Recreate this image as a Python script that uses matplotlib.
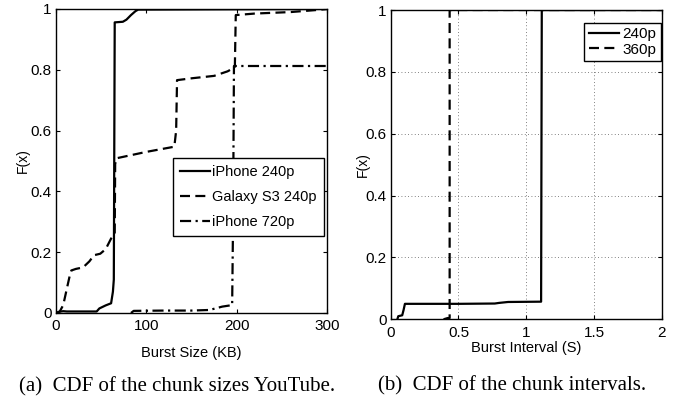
import matplotlib
matplotlib.use("Agg")
import matplotlib.pyplot as plt

# ------------------------------------------------------------
# Data
# ------------------------------------------------------------
# (a) CDF of burst (chunk) sizes, KB
iphone240_x = [0, 3, 8, 12, 45, 48, 55, 61, 63, 64, 65, 74, 78, 83, 88, 91, 300]
iphone240_y = [0, 0.004, 0.006, 0.005, 0.005, 0.015, 0.025, 0.032, 0.07, 0.11, 0.956, 0.958, 0.965, 0.98, 0.993, 0.998, 1.0]

galaxy240_x = [0, 4, 8, 12, 15, 17, 22, 30, 37, 42, 49, 55, 61, 65, 65.5, 67, 100, 131,
               133, 134, 150, 175, 190, 196, 198, 199, 220, 260, 290, 300]
galaxy240_y = [0, 0.004, 0.026, 0.08, 0.12, 0.14, 0.145, 0.15, 0.17, 0.19, 0.195, 0.21, 0.245,
               0.26, 0.49, 0.509, 0.53, 0.547, 0.6, 0.766, 0.772, 0.78, 0.795, 0.805, 0.81, 0.98,
               0.985, 0.99, 0.997, 1.0]

iphone720_x = [83, 86, 120, 150, 170, 184, 195, 196, 197, 300]
iphone720_y = [0, 0.007, 0.008, 0.008, 0.01, 0.021, 0.026, 0.3, 0.8125, 0.8125]

size_labels = ["iPhone 240p", "Galaxy S3 240p", "iPhone 720p"]

# (b) CDF of burst intervals, seconds
r240_x = [0.049, 0.056, 0.085, 0.095, 0.105, 0.5, 0.768, 0.80, 0.866, 1.11, 1.115, 2.0]
r240_y = [0, 0.01, 0.013, 0.03, 0.05, 0.05, 0.051, 0.053, 0.056, 0.057, 1.0, 1.0]

r360_x = [0.39, 0.42, 0.435, 0.435, 2.0]
r360_y = [0, 0.004, 0.004, 1.0, 1.0]

interval_labels = ["240p", "360p"]

# ------------------------------------------------------------
# Style (MATLAB-like boxed axes)
# ------------------------------------------------------------
plt.rcParams["font.family"] = ["Liberation Sans", "DejaVu Sans"]
plt.rcParams["axes.linewidth"] = 1.0

W, H = 683, 405
fig = plt.figure(figsize=(W / 100, H / 100), dpi=100)

ax1 = fig.add_axes([56 / W, 1 - 313 / H, 271 / W, 304 / H])
ax2 = fig.add_axes([390.7 / W, 1 - 319.3 / H, 271 / W, 309.3 / H])

lw = 1.6
dash = (4.5, 2.4)
dashdot = (5, 2, 1, 2)


def style_axes(ax):
    ax.tick_params(direction="in", top=True, right=True, length=3, width=0.8,
                   labelsize=11, pad=3)
    for s in ax.spines.values():
        s.set_color("k")


# ------------------------------------------------------------
# (a) Burst size
# ------------------------------------------------------------
ax1.plot(iphone240_x, iphone240_y, color="k", lw=lw, label=size_labels[0])
ax1.plot(galaxy240_x, galaxy240_y, color="k", lw=lw, dashes=dash, label=size_labels[1])
ax1.plot(iphone720_x, iphone720_y, color="k", lw=lw, dashes=dashdot, label=size_labels[2])
ax1.set_xlim(0, 300)
ax1.set_ylim(0, 1)
ax1.set_xticks([0, 100, 200, 300])
ax1.set_yticks([0, 0.2, 0.4, 0.6, 0.8, 1])
ax1.set_yticklabels(["0", "0.2", "0.4", "0.6", "0.8", "1"])
style_axes(ax1)
ax1.tick_params(axis="x", pad=4.5)
ax1.set_xlabel("Burst Size (KB)", fontsize=10.5, va="center")
ax1.xaxis.set_label_coords(0.5, -0.132)
ax1.set_ylabel("F(x)", fontsize=10, va="center")
ax1.yaxis.set_label_coords(-0.122, 0.5)
leg1 = ax1.legend(loc="upper left", bbox_to_anchor=(0.432, 0.51), borderaxespad=0,
                  fontsize=10.5, frameon=True, fancybox=False, labelspacing=0.75,
                  handlelength=2.0, handletextpad=0.2, borderpad=0.5)
leg1.get_frame().set_edgecolor("k")
leg1.get_frame().set_linewidth(1.0)
leg1.get_frame().set_alpha(1)

# ------------------------------------------------------------
# (b) Burst interval
# ------------------------------------------------------------
ax2.plot(r240_x, r240_y, color="k", lw=lw, label=interval_labels[0])
ax2.plot(r360_x, r360_y, color="k", lw=lw, dashes=dash, label=interval_labels[1])
ax2.set_xlim(0, 2)
ax2.set_ylim(0, 1)
ax2.set_xticks([0, 0.5, 1, 1.5, 2])
ax2.set_xticklabels(["0", "0.5", "1", "1.5", "2"])
ax2.set_yticks([0, 0.2, 0.4, 0.6, 0.8, 1])
ax2.set_yticklabels(["0", "0.2", "0.4", "0.6", "0.8", "1"])
ax2.grid(True, color="0.35", lw=0.6, dashes=(1, 3))
style_axes(ax2)
ax2.tick_params(axis="x", pad=4.5)
ax2.set_xlabel("Burst Interval (S)", fontsize=10.5, va="center")
ax2.xaxis.set_label_coords(0.5, -0.093)
ax2.set_ylabel("F(x)", fontsize=10, va="center")
ax2.yaxis.set_label_coords(-0.102, 0.5)
leg2 = ax2.legend(loc="upper right", bbox_to_anchor=(0.996, 0.959), borderaxespad=0,
                  fontsize=11, frameon=True, fancybox=False, labelspacing=0.1,
                  handlelength=2.0, handletextpad=0.2, borderpad=0.3)
leg2.get_frame().set_edgecolor("k")
leg2.get_frame().set_linewidth(1.0)
leg2.get_frame().set_alpha(1)

# ------------------------------------------------------------
# Sub-captions
# ------------------------------------------------------------
fig.text(177.5 / W, 1 - 386.7 / H, "(a)  CDF of the chunk sizes YouTube.",
         ha="center", va="center", fontsize=15, family=["Liberation Serif", "DejaVu Serif"])
fig.text(512 / W, 1 - 386 / H, "(b)  CDF of the chunk intervals.",
         ha="center", va="center", fontsize=15, family=["Liberation Serif", "DejaVu Serif"])

fig.savefig("out.png", dpi=100)
